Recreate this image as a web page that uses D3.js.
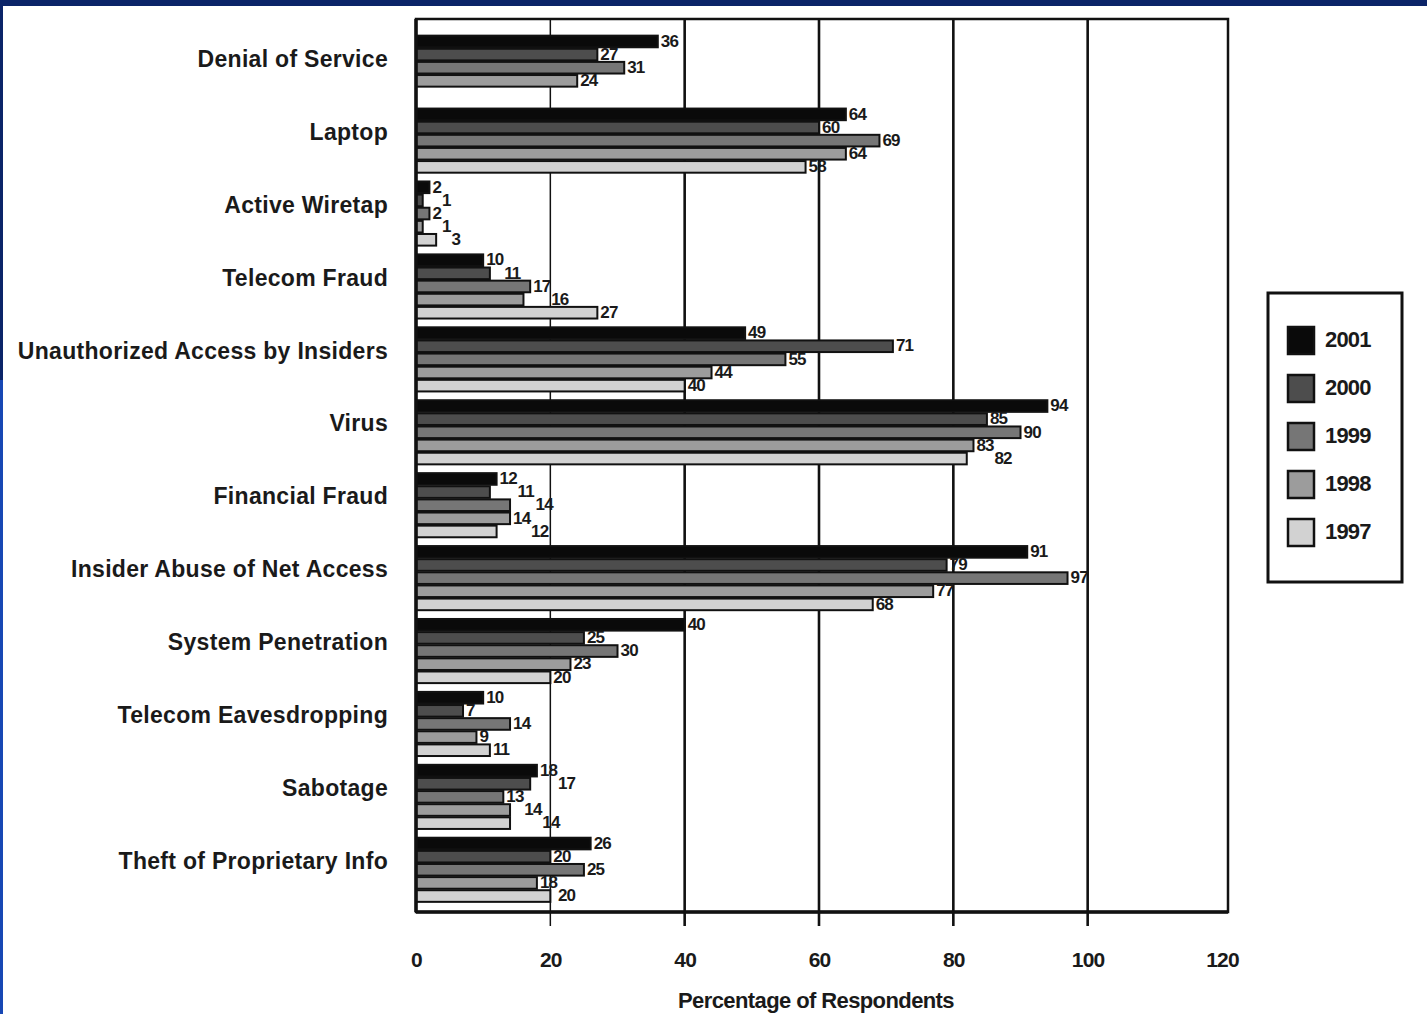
<!DOCTYPE html>
<html><head><meta charset="utf-8">
<script src="https://cdn.jsdelivr.net/npm/d3@7"></script>
<style>
html,body{margin:0;padding:0;background:#fff;}
svg{display:block;}
text{font-family:"Liberation Sans",Arial,Helvetica,sans-serif;font-weight:bold;fill:#1a1a1a;}
</style></head><body>
<script>
const categories = ["Denial of Service","Laptop","Active Wiretap","Telecom Fraud","Unauthorized Access by Insiders","Virus","Financial Fraud","Insider Abuse of Net Access","System Penetration","Telecom Eavesdropping","Sabotage","Theft of Proprietary Info"];
const years = ["2001","2000","1999","1998","1997"];
const v2001 = [36,64,2,10,49,94,12,91,40,10,18,26];
const v2000 = [27,60,1,11,71,85,11,79,25,7,17,20];
const v1999 = [31,69,2,17,55,90,14,97,30,14,13,25];
const v1998 = [24,64,1,16,44,83,14,77,23,9,14,18];
const v1997 = [null,58,3,27,40,82,12,68,20,11,14,20];
const xTicks = [0,20,40,60,80,100,120];
const colors = ["#0a0a0a","#4d4d4d","#767676","#9c9c9c","#d2d2d2"];

const series = [v2001,v2000,v1999,v1998,v1997];
const W = 1427, H = 1014;
const svg = d3.select("body").append("svg").attr("width",W).attr("height",H);

// slide frame
svg.append("rect").attr("x",0).attr("y",0).attr("width",W).attr("height",H).attr("fill","#fff");
svg.append("rect").attr("x",0).attr("y",0).attr("width",W).attr("height",6).attr("fill","#0b2468");
svg.append("rect").attr("x",0).attr("y",0).attr("width",3).attr("height",380).attr("fill","#0b2468");
svg.append("rect").attr("x",0).attr("y",380).attr("width",3).attr("height",H-380).attr("fill","#1747b4");

const plotL = 416, plotR = 1228, plotT = 19, plotB = 912;
const x = d3.scaleLinear().domain([0,120]).range([416,1222]);
const y = d3.scaleBand().domain(categories).range([31,906]).paddingInner(0.1).paddingOuter(0.05);
const ySub = d3.scaleBand().domain(years).range([0,y.bandwidth()]);

// gridlines
const grid = svg.append("g");
xTicks.slice(1,6).forEach(t=>{
  grid.append("line").attr("x1",x(t)).attr("x2",x(t)).attr("y1",plotT).attr("y2",926)
    .attr("stroke","#111").attr("stroke-width", t===20?1.5:2.6);
});

// bars
const gBars = svg.append("g");
const fs = 17;
categories.forEach((c,i)=>{
  let prev = null;
  years.forEach((yr,j)=>{
    const val = series[j][i];
    if(val==null) return;
    const y0 = y(c)+ySub(yr);
    gBars.append("rect").attr("x",x(0)).attr("y",y0+1)
      .attr("width",x(val)-x(0)).attr("height",ySub.bandwidth()-1.5)
      .attr("fill",colors[j]).attr("stroke","#111").attr("stroke-width",2);
    const w = String(val).length*fs*0.5;
    let lx = x(val)+3;
    if (prev && lx < prev.r + 1 && lx + w > prev.l - 1) lx = prev.r + 1;
    prev = {l: lx, r: lx + w};
    gBars.append("text").attr("x",lx).attr("y",y0+ySub.bandwidth()/2+1)
      .attr("dominant-baseline","middle").attr("font-size",fs).attr("letter-spacing",-0.8)
      .text(val);
  });
});

// frame
svg.append("rect").attr("x",plotL).attr("y",plotT).attr("width",plotR-plotL).attr("height",plotB-plotT)
  .attr("fill","none").attr("stroke","#111").attr("stroke-width",2.5);
svg.append("line").attr("x1",plotL).attr("x2",plotL).attr("y1",plotT).attr("y2",plotB).attr("stroke","#111").attr("stroke-width",3.5);
svg.append("line").attr("x1",plotL).attr("x2",plotR).attr("y1",plotB).attr("y2",plotB).attr("stroke","#111").attr("stroke-width",3.5);

// x axis
const xAxis = d3.axisBottom(x).tickValues(xTicks).tickSize(0).tickPadding(0);
const ax = svg.append("g").attr("transform",`translate(0,${plotB})`).call(xAxis);
ax.select(".domain").remove();
ax.selectAll("text").attr("y",55).attr("dy",0).attr("font-size",21).attr("font-family","'Liberation Sans',Arial,sans-serif").attr("font-weight","bold").attr("fill","#1a1a1a").attr("letter-spacing",-0.8);
svg.append("text").attr("x",816).attr("y",1008).attr("text-anchor","middle").attr("font-size",22).attr("letter-spacing",-0.6).text("Percentage of Respondents");

// y labels
const yAxis = d3.axisLeft(y).tickSize(0).tickPadding(0);
const ay = svg.append("g").attr("transform","translate(388,-8)").call(yAxis);
ay.select(".domain").remove();
ay.selectAll("text").attr("font-size",23).attr("font-family","'Liberation Sans',Arial,sans-serif").attr("font-weight","bold").attr("fill","#1a1a1a").attr("letter-spacing",0.3);

// legend
const lg = svg.append("g");
lg.append("rect").attr("x",1268).attr("y",293).attr("width",134).attr("height",289).attr("fill","#fff").attr("stroke","#111").attr("stroke-width",3);
years.forEach((yr,j)=>{
  const yy = 327 + j*48;
  lg.append("rect").attr("x",1288).attr("y",yy).attr("width",26).attr("height",27).attr("fill",colors[j]).attr("stroke","#111").attr("stroke-width",2.5);
  lg.append("text").attr("x",1325).attr("y",yy+14).attr("dominant-baseline","middle").attr("font-size",22).attr("letter-spacing",-0.8).text(yr);
});
</script>
</body></html>
